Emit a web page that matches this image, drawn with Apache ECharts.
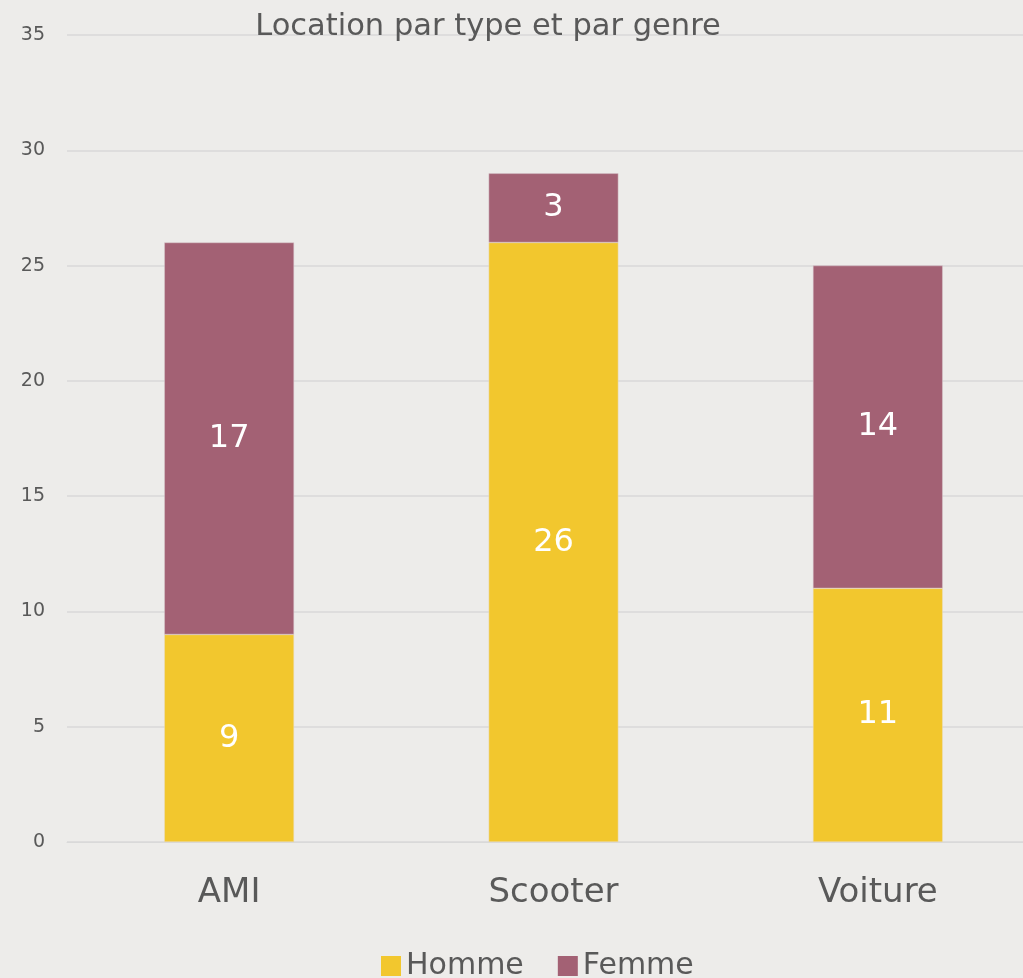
<!DOCTYPE html>
<html><head><meta charset="utf-8">
<script src="https://cdn.jsdelivr.net/npm/echarts@6/dist/echarts.min.js"></script>
<style>html,body{margin:0;padding:0;background:#edecea}#c{width:1023px;height:978px}</style>
</head><body><div id="c"></div>
<script>
const categories = ["AMI", "Scooter", "Voiture"];
const homme = [9, 26, 11];
const femme = [17, 3, 14];
const yTicks = [0, 5, 10, 15, 20, 25, 30, 35];
const FONT = "'DejaVu Sans', sans-serif";
const chart = echarts.init(document.getElementById('c'));
const lbl = {show: true, position: 'inside', color: '#ffffff', fontSize: 32, fontFamily: FONT};
chart.setOption({
  backgroundColor: '#edecea',
  animation: false,
  title: {text: 'Location par type et par genre', left: 483, textAlign: 'center', top: 7,
    textStyle: {color: '#595959', fontSize: 30.5, fontWeight: 'normal', fontFamily: FONT}},
  legend: {bottom: -8, left: 376, itemWidth: 20, itemHeight: 20, itemGap: 34, icon: 'rect',
    itemStyle: {borderWidth: 0},
    textStyle: {color: '#595959', fontSize: 30, fontFamily: FONT}},
  grid: {left: 67, width: 973, top: 35, bottom: 136, containLabel: false, outerBoundsMode: 'none'},
  xAxis: {type: 'category', data: categories,
    axisLine: {show: true, lineStyle: {color: '#d9d9d9', width: 1}},
    axisTick: {show: false},
    axisLabel: {color: '#595959', fontSize: 34, fontFamily: FONT, margin: 34}},
  yAxis: {type: 'value', min: 0, max: 35, interval: 5,
    axisLine: {show: false}, axisTick: {show: false},
    splitLine: {lineStyle: {color: '#d9d9d9', width: 1.5}},
    axisLabel: {color: '#595959', fontSize: 19, fontFamily: FONT, margin: 22,
      formatter: v => yTicks.includes(v) ? String(v) : ''}},
  series: [
    {name: 'Homme', type: 'bar', stack: 't', data: homme, barWidth: '40%',
      itemStyle: {color: '#f2c72e', borderColor: '#e8dcc0', borderWidth: 0.5}, label: lbl},
    {name: 'Femme', type: 'bar', stack: 't', data: femme, barWidth: '40%',
      itemStyle: {color: '#a36174', borderColor: '#d8c8cc', borderWidth: 0.5}, label: lbl}
  ]
});
</script></body></html>
